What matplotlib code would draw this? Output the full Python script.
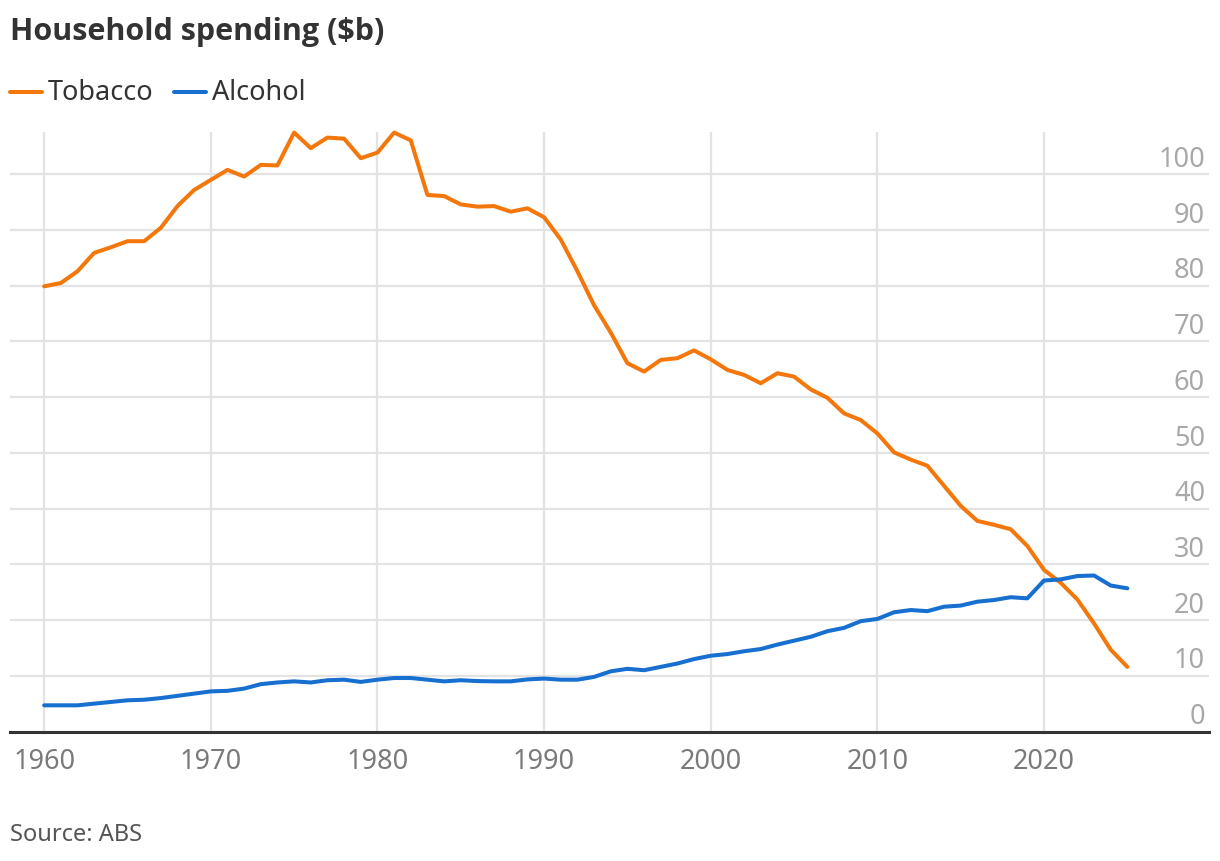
import matplotlib.pyplot as plt
from matplotlib.lines import Line2D

plt.rcParams["font.family"] = ["Noto Sans", "DejaVu Sans"]

years = list(range(1960, 2026))

tobacco = [
    79.9, 80.5, 82.6, 85.9, 86.9, 88.0, 88.0, 90.4, 94.3, 97.2,
    99.0, 100.8, 99.6, 101.7, 101.6, 107.5, 104.7, 106.6, 106.4, 102.9,
    103.9, 107.5, 106.1, 96.3, 96.1, 94.6, 94.2, 94.3, 93.3, 93.9,
    92.3, 88.3, 82.6, 76.5, 71.6, 66.1, 64.6, 66.7, 67.0, 68.4,
    66.8, 64.9, 64.0, 62.5, 64.3, 63.7, 61.4, 59.9, 57.1, 55.9,
    53.5, 50.1, 48.8, 47.7, 44.1, 40.5, 37.8, 37.1, 36.3, 33.3,
    29.0, 26.7, 23.7, 19.4, 14.7, 11.6,
]

alcohol = [
    4.7, 4.7, 4.7, 5.0, 5.3, 5.6, 5.7, 6.0, 6.4, 6.8,
    7.2, 7.3, 7.7, 8.5, 8.8, 9.0, 8.8, 9.2, 9.3, 8.9,
    9.3, 9.6, 9.6, 9.3, 9.0, 9.2, 9.05, 9.0, 9.0, 9.35,
    9.5, 9.3, 9.3, 9.8, 10.8, 11.25, 11.0, 11.6, 12.2, 13.0,
    13.6, 13.9, 14.4, 14.8, 15.6, 16.3, 17.0, 18.0, 18.6, 19.8,
    20.2, 21.4, 21.8, 21.6, 22.4, 22.6, 23.3, 23.6, 24.1, 23.9,
    27.1, 27.3, 27.9, 28.0, 26.2, 25.7,
]

series = [("Tobacco", tobacco, "#f4770c"), ("Alcohol", alcohol, "#176fcf")]
x_ticks = [1960, 1970, 1980, 1990, 2000, 2010, 2020]
y_ticks = [0, 10, 20, 30, 40, 50, 60, 70, 80, 90, 100]

fig = plt.figure(figsize=(12.2, 8.62), dpi=100)
ax = fig.add_axes([10 / 1220, 1 - 732.5 / 862, 1199 / 1220, 599.5 / 862])

for name, vals, color in series:
    ax.plot(years, vals, color=color, lw=2.9, solid_joinstyle="round",
            solid_capstyle="round", zorder=3, clip_on=False)

ax.set_xlim(1957.95, 2029.9)
ax.set_ylim(0, 107.6)

# vertical gridlines up to the top, horizontal ones full width
for xt in x_ticks:
    ax.axvline(xt, color="#e3e3e3", lw=1.6, zorder=1)
for yt in y_ticks[1:]:
    ax.axhline(yt, color="#e3e3e3", lw=1.6, zorder=1)

for side in ["top", "right", "left"]:
    ax.spines[side].set_visible(False)
ax.spines["bottom"].set_color("#333333")
ax.spines["bottom"].set_linewidth(2.2)
ax.spines["bottom"].set_zorder(4)

ax.set_xticks(x_ticks)
ax.set_xticklabels([str(v) for v in x_ticks], fontsize=19.5, color="#7a7a7a")
ax.tick_params(axis="x", length=0, pad=11)
ax.set_yticks([])

for yt in y_ticks:
    ax.annotate(str(yt), xy=(0.9967, yt), xycoords=ax.get_yaxis_transform(),
                xytext=(0, 6), textcoords="offset points",
                ha="right", va="baseline", fontsize=19.5, color="#a8a8a8")

fig.text(10 / 1220, 1 - 32 / 862, "Household spending ($b)", fontsize=22,
         fontweight="bold", family=["Open Sans", "DejaVu Sans"],
         color="#333333", ha="left", va="center")

# legend
leg_x = [(10, 48), (174, 212)]
for (lx, tx), (name, vals, color) in zip(leg_x, series):
    fig.add_artist(Line2D([lx / 1220, (lx + 32) / 1220], [1 - 93 / 862] * 2,
                          color=color, lw=2.9, solid_capstyle="round"))
    fig.text(tx / 1220, 1 - 93 / 862, name, fontsize=19.5, color="#333333",
             ha="left", va="center")

fig.text(10 / 1220, 1 - 835 / 862, "Source: ABS", fontsize=17, color="#555555",
         ha="left", va="center")

fig.savefig("out.png", dpi=100, facecolor="white")
